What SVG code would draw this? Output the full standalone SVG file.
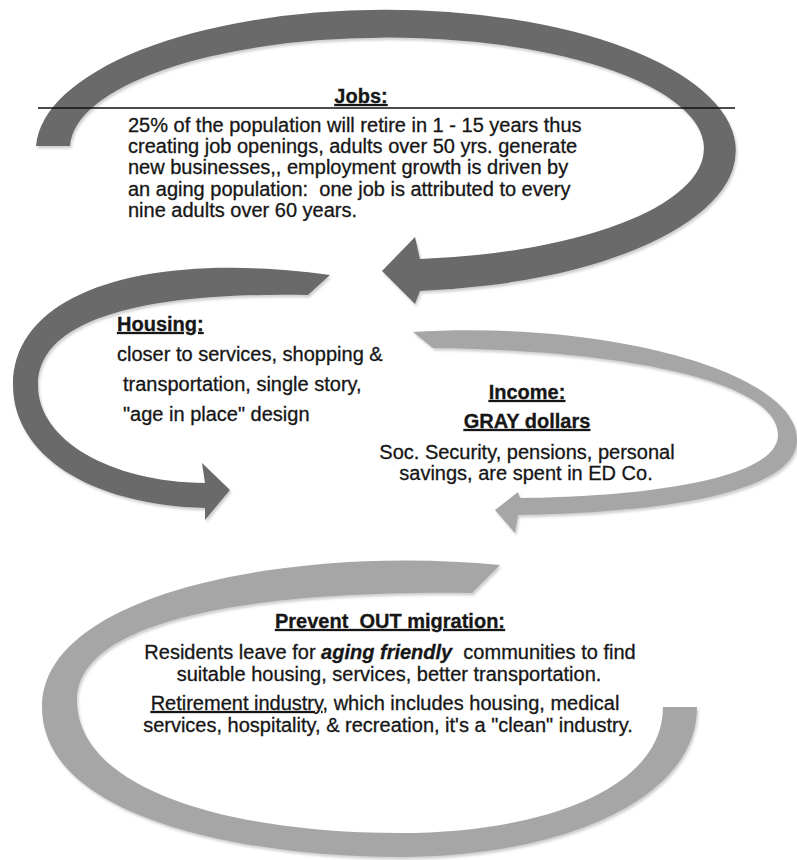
<svg xmlns="http://www.w3.org/2000/svg" width="797" height="860" viewBox="0 0 797 860">
<defs>
<style>
.t{font-family:"Liberation Sans",Arial,sans-serif;font-size:20px;fill:#161616;stroke:#161616;stroke-width:0.3}
.h{font-weight:bold;text-decoration:underline}
.dark{fill:#6a6a6a}
.light{fill:#a6a6a6}
</style>
<filter id="sh" x="-5%" y="-5%" width="110%" height="115%">
<feDropShadow dx="1.5" dy="2.5" stdDeviation="1.2" flood-color="#c4c4c4" flood-opacity="0.8"/>
</filter>
</defs>
<rect width="797" height="860" fill="#ffffff"/>
<g id="connectors" filter="url(#sh)">
<path id="arrow-jobs" class="dark" d="M36,146 A350,141 0 1,1 420,291 L415,304 L382,271 L415,237 L420,259 A317,111 0 1,0 70,146 Z"/>
<path id="arrow-housing" class="dark" d="M330,275 C150,250 13,290 13,385 C13,455 90,505 205,508 L205,520 L230,490 L202,463 L205,483 C110,482 38,440 38,385 C38,320 140,292 308,295 Z"/>
<path id="arrow-income" class="light" d="M413,332 C600,320 797,370 797,440 C797,495 650,513 518,515 L515,533 L495,510 L518,492 L520,498 C640,497 778,480 778,435 C778,380 620,350 433,348 Z"/>
<path id="arrow-migration" class="light" d="M500,565 C300,545 42,590 42,707 C42,820 250,857 400,857 C560,857 697,800 697,707 L663,707 C663,790 540,833 400,833 C230,833 77,790 77,700 C77,620 250,590 472,593 Z"/>
</g>
<line x1="38" y1="108" x2="735" y2="108" stroke="#111" stroke-width="1.5"/>
<g id="jobs">
<text class="t h" x="361" y="103" text-anchor="middle">Jobs:</text>
<text class="t" x="128" y="132">25% of the population will retire in 1 - 15 years thus</text>
<text class="t" x="128" y="153">creating job openings, adults over 50 yrs. generate</text>
<text class="t" x="128" y="174">new businesses,, employment growth is driven by</text>
<text class="t" x="128" y="196" xml:space="preserve">an aging population:  one job is attributed to every</text>
<text class="t" x="128" y="217">nine adults over 60 years.</text>
</g>
<g id="housing">
<text class="t h" x="117" y="331">Housing:</text>
<text class="t" x="117" y="361">closer to services, shopping &amp;</text>
<text class="t" x="123" y="391">transportation, single story,</text>
<text class="t" x="123" y="421">"age in place" design</text>
</g>
<g id="income">
<text class="t h" x="527" y="399" text-anchor="middle">Income:</text>
<text class="t h" x="527" y="428" text-anchor="middle">GRAY dollars</text>
<text class="t" x="527" y="459" text-anchor="middle">Soc. Security, pensions, personal</text>
<text class="t" x="526" y="480" text-anchor="middle">savings, are spent in ED Co.</text>
</g>
<g id="migration">
<text class="t h" x="390" y="628" text-anchor="middle" xml:space="preserve">Prevent  OUT migration:</text>
<text class="t" x="390" y="659" text-anchor="middle" xml:space="preserve">Residents leave for <tspan font-weight="bold" font-style="italic">aging friendly</tspan>  communities to find</text>
<text class="t" x="389" y="681" text-anchor="middle">suitable housing, services, better transportation.</text>
<text class="t" x="385" y="710" text-anchor="middle"><tspan text-decoration="underline">Retirement industry</tspan>, which includes housing, medical</text>
<text class="t" x="388" y="732" text-anchor="middle">services, hospitality, &amp; recreation, it's a "clean" industry.</text>
</g>
</svg>
